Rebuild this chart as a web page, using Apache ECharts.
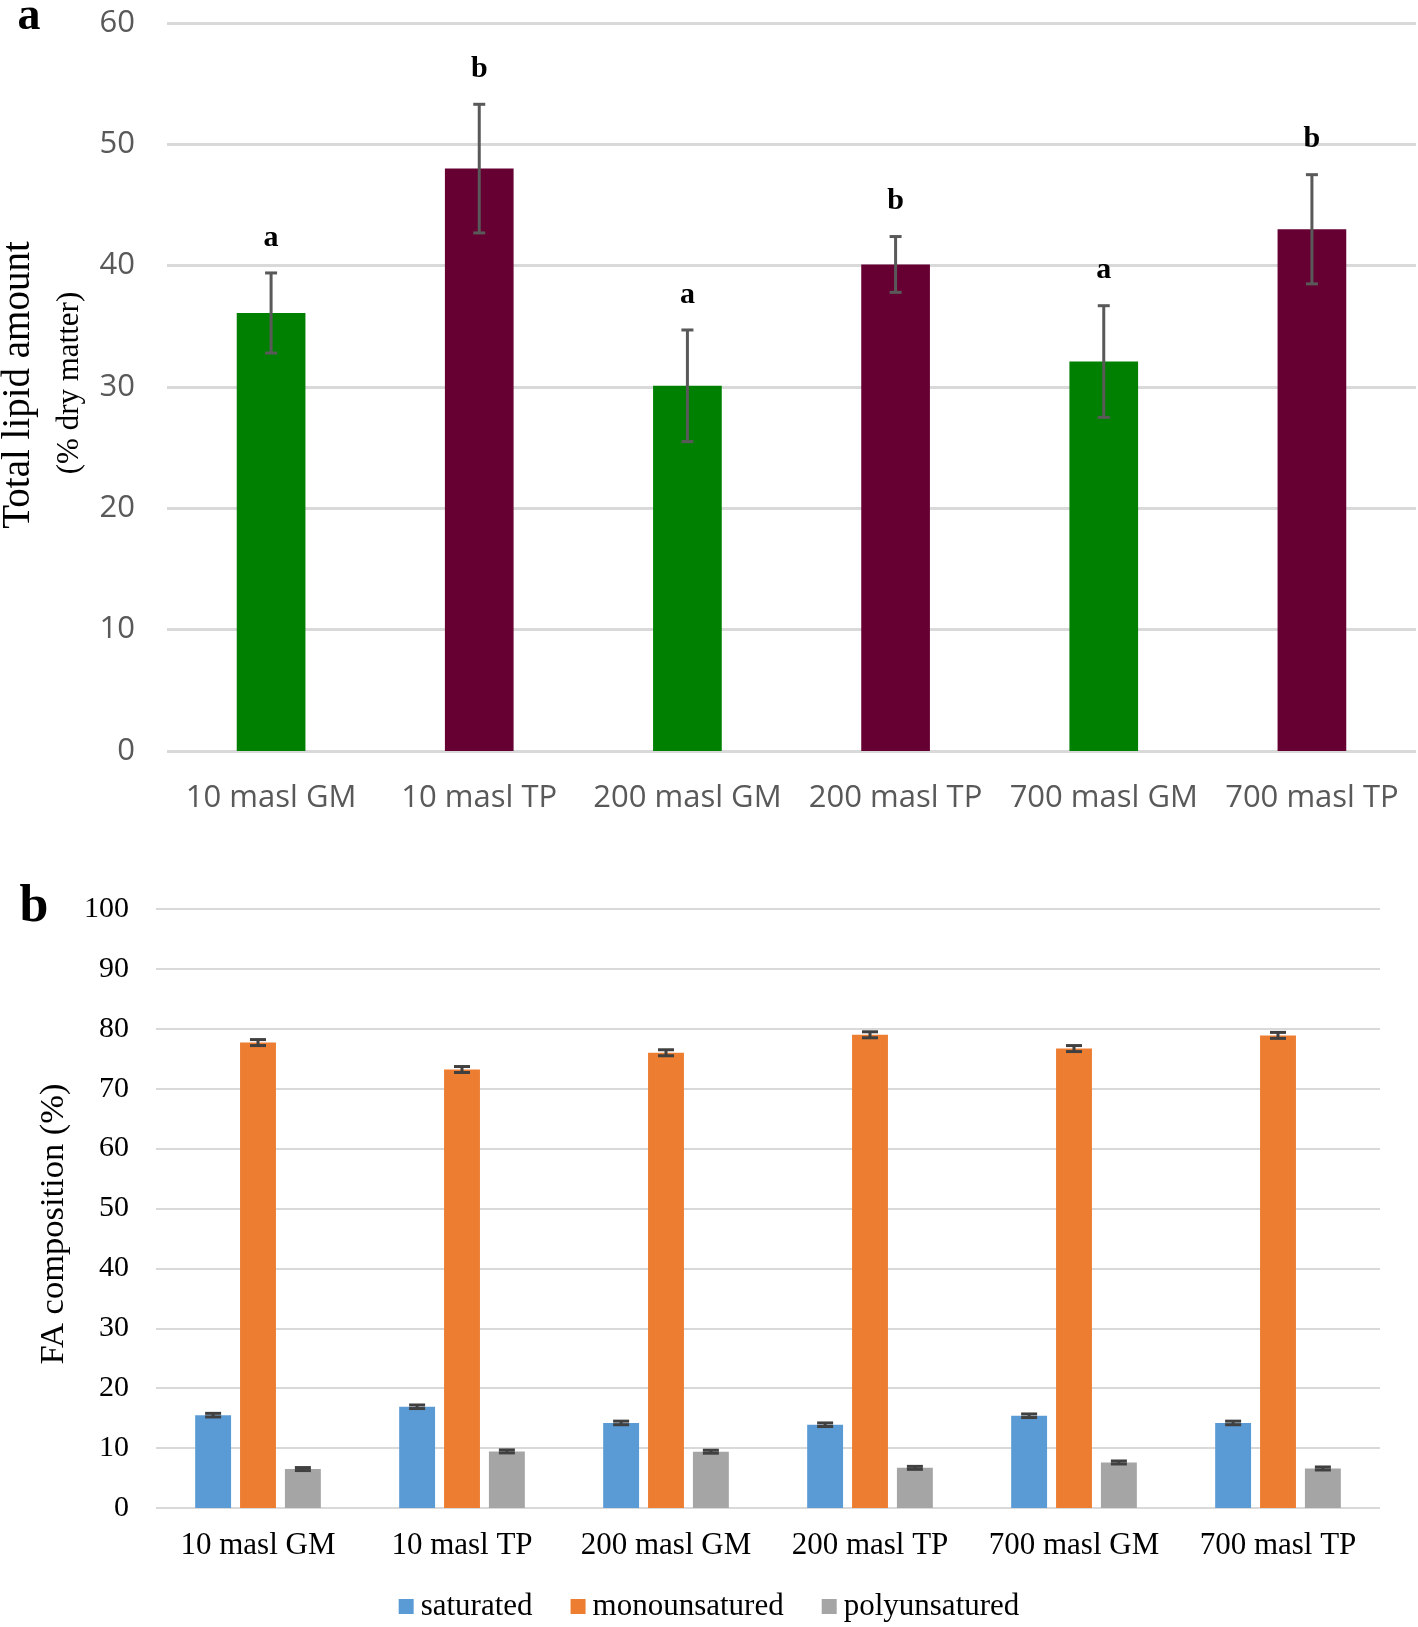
<!DOCTYPE html>
<html><head><meta charset="utf-8">
<script src="https://cdn.jsdelivr.net/npm/echarts@6/dist/echarts.min.js"></script>
<style>html,body{margin:0;padding:0;background:#fff;}#c{width:1418px;height:1627px;}</style>
</head><body><div id="c"></div>
<script>
// ---- Data ----
const categories = ['10 masl GM','10 masl TP','200 masl GM','200 masl TP','700 masl GM','700 masl TP'];
// Panel a: total lipid amount (% dry matter)
const lipidMean = [36.1, 48.0, 30.1, 40.1, 32.1, 43.0];
const lipidErr  = [3.3, 5.3, 4.6, 2.3, 4.6, 4.5];
const lipidLetters = ['a','b','a','b','a','b'];
const lipidColors = ['#008000','#660033','#008000','#660033','#008000','#660033'];
const yTicksA = {min: 0, max: 60, interval: 10};
// Panel b: FA composition (%)
const faSeriesNames = ['saturated','monounsatured','polyunsatured'];
const saturated     = [15.5, 16.9, 14.2, 13.9, 15.4, 14.2];
const monounsat     = [77.7, 73.2, 76.0, 79.0, 76.7, 78.9];
const polyunsat     = [6.5, 9.45, 9.4, 6.7, 7.6, 6.6];
const saturatedErr  = [0.3, 0.3, 0.3, 0.3, 0.3, 0.3];
const monounsatErr  = [0.5, 0.5, 0.5, 0.5, 0.5, 0.5];
const polyunsatErr  = [0.25, 0.25, 0.25, 0.25, 0.25, 0.25];
const yTicksB = {min: 0, max: 100, interval: 10};

const faColors = ['#5b9bd5','#ed7d31','#a5a5a5'];
const faVals = [saturated, monounsat, polyunsat];
const faErrs = [saturatedErr, monounsatErr, polyunsatErr];

const chart = echarts.init(document.getElementById('c'), null, {renderer:'canvas'});
const sans = '"Open Sans", sans-serif';
const serif = '"Liberation Serif", "Times New Roman", serif';

const BW_B = 0.176, GAP_B = 0.25;

function errA(params, api){
  const i = api.value(0), v = api.value(1), e = api.value(2);
  const top = api.coord([i, v+e]), bot = api.coord([i, v-e]);
  const x = top[0], cw = 6;
  const st = {stroke:'#595959', lineWidth:3};
  return {type:'group', children:[
    {type:'line', shape:{x1:x,y1:top[1],x2:x,y2:bot[1]}, style:st},
    {type:'line', shape:{x1:x-cw,y1:top[1],x2:x+cw,y2:top[1]}, style:st},
    {type:'line', shape:{x1:x-cw,y1:bot[1],x2:x+cw,y2:bot[1]}, style:st},
    {type:'text', x:x, y:top[1]-20, style:{text:lipidLetters[i], font:'bold 30px '+serif, fill:'#000', align:'center', verticalAlign:'bottom'}}
  ]};
}
function errB(k){
  return function(params, api){
    const i = api.value(0), v = api.value(1), e = api.value(2);
    const top = api.coord([i, v+e]), bot = api.coord([i, v-e]);
    const cat = api.size([1,0])[0];
    const bw = cat*BW_B, gap = bw*GAP_B, total = 3*bw+2*gap;
    const x = top[0] - total/2 + bw/2 + k*(bw+gap);
    const cw = 8;
    const st = {stroke:'#404040', lineWidth:3};
    return {type:'group', children:[
      {type:'line', shape:{x1:x,y1:top[1],x2:x,y2:bot[1]}, style:st},
      {type:'line', shape:{x1:x-cw,y1:top[1],x2:x+cw,y2:top[1]}, style:st},
      {type:'line', shape:{x1:x-cw,y1:bot[1],x2:x+cw,y2:bot[1]}, style:st}
    ]};
  };
}

const series = [
  {type:'bar', xAxisIndex:0, yAxisIndex:0, barWidth:'33%', silent:true,
   data: lipidMean.map((v,i)=>({value:v, itemStyle:{color:lipidColors[i]}}))},
  {type:'custom', xAxisIndex:0, yAxisIndex:0, renderItem: errA, z:5, silent:true,
   data: lipidMean.map((v,i)=>[i, v, lipidErr[i]])}
];
faSeriesNames.forEach((n,k)=>{
  series.push({type:'bar', name:n, xAxisIndex:1, yAxisIndex:1, barWidth:(BW_B*100)+'%', barGap:(GAP_B*100)+'%',
    itemStyle:{color:faColors[k]}, data: faVals[k], silent:true});
});
faSeriesNames.forEach((n,k)=>{
  series.push({type:'custom', xAxisIndex:1, yAxisIndex:1, renderItem: errB(k), z:5, silent:true,
    data: faVals[k].map((v,i)=>[i, v, faErrs[k][i]])});
});

chart.setOption({
  animation:false,
  backgroundColor:'#fff',
  grid:[
    {left:167, right:2, top:23, height:728},
    {left:156, right:38, top:909, height:599}
  ],
  xAxis:[
    {type:'category', gridIndex:0, data:categories, axisLine:{show:false}, axisTick:{show:false},
     axisLabel:{interval:0, margin:32, color:'#595959', fontFamily:sans, fontSize:31}},
    {type:'category', gridIndex:1, data:categories, axisLine:{show:false}, axisTick:{show:false},
     axisLabel:{interval:0, margin:22, color:'#000', fontFamily:serif, fontSize:31}}
  ],
  yAxis:[
    {type:'value', gridIndex:0, min:yTicksA.min, max:yTicksA.max, interval:yTicksA.interval,
     axisLine:{show:false}, axisTick:{show:false},
     axisLabel:{margin:32, color:'#595959', fontFamily:sans, fontSize:31},
     splitLine:{lineStyle:{color:'#d9d9d9', width:3}}},
    {type:'value', gridIndex:1, min:yTicksB.min, max:yTicksB.max, interval:yTicksB.interval,
     axisLine:{show:false}, axisTick:{show:false},
     axisLabel:{margin:27, color:'#000', fontFamily:serif, fontSize:30},
     splitLine:{lineStyle:{color:'#d9d9d9', width:2}}}
  ],
  legend:{data:faSeriesNames, bottom:0, left:'center', icon:'rect', itemWidth:15, itemHeight:15, itemGap:38,
    textStyle:{fontFamily:serif, fontSize:31, color:'#000', padding:[0,0,0,2]}},
  graphic:[
    {type:'text', x:29, y:17, style:{text:'a', font:'bold 46px '+serif, fill:'#000', align:'center', verticalAlign:'middle'}},
    {type:'text', x:34, y:908, style:{text:'b', font:'bold 52px '+serif, fill:'#000', align:'center', verticalAlign:'middle'}},
    {type:'text', x:19, y:385, rotation:Math.PI/2, style:{text:'Total lipid amount', font:'39px '+serif, fill:'#000', align:'center', verticalAlign:'middle'}},
    {type:'text', x:70, y:383, rotation:Math.PI/2, style:{text:'(% dry matter)', font:'31px '+serif, fill:'#000', align:'center', verticalAlign:'middle'}},
    {type:'text', x:54, y:1224, rotation:Math.PI/2, style:{text:'FA composition (%)', font:'34.5px '+serif, fill:'#000', align:'center', verticalAlign:'middle'}}
  ],
  series: series
});
</script></body></html>
